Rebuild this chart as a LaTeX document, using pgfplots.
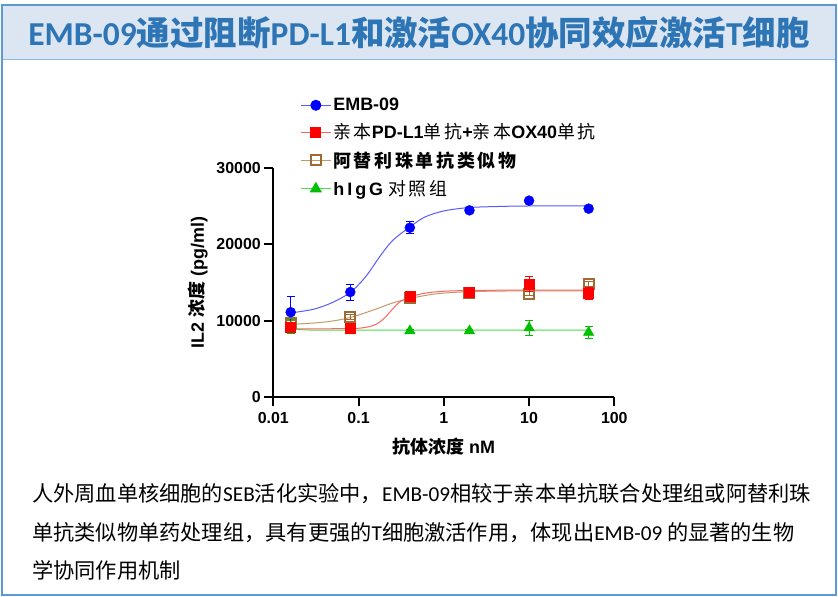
\documentclass[border=0pt]{standalone}
\usepackage{fontspec}
\setmainfont{Liberation Sans}
\newfontfamily\cjk{Noto Sans CJK SC}
\newfontfamily\cjksp{Noto Sans CJK SC}[LetterSpace=15]
\newfontfamily\carl{Carlito}
\usepackage{pgfplots}
\pgfplotsset{compat=1.18}

\definecolor{frameblue}{RGB}{91,155,213}
\definecolor{bannerfill}{RGB}{220,230,242}
\definecolor{titleblue}{RGB}{46,117,182}
\definecolor{cBlue}{RGB}{0,0,255}
\definecolor{lBlue}{RGB}{90,90,255}
\definecolor{cRed}{RGB}{255,0,0}
\definecolor{lRed}{RGB}{255,100,100}
\definecolor{cBrown}{RGB}{160,106,50}
\definecolor{lBrown}{RGB}{195,155,105}
\definecolor{cGreen}{RGB}{0,190,0}
\definecolor{lGreen}{RGB}{70,225,70}

\begin{document}
\begin{tikzpicture}
\useasboundingbox (0,0) rectangle (838bp,-597bp);
% frame and title banner
\fill[white] (0,0) rectangle (838bp,-597bp);
\fill[bannerfill] (2bp,-5bp) rectangle (836bp,-59bp);
\draw[frameblue!70, line width=1bp] (2bp,-59bp) -- (836bp,-59bp);
\draw[frameblue, line width=2bp] (2bp,-5bp) rectangle (836bp,-595bp);
\node[anchor=base, text=titleblue, inner sep=0pt] at (419bp,-45bp)
  {\fontsize{33.6}{33.6}\selectfont\bfseries{\carl EMB-09}{\cjk 通过阻断}{\carl PD-L1}{\cjk 和激活}{\carl OX40}{\cjk 协同效应激活}{\carl T}{\cjk 细胞}};

\begin{axis}[
  at={(273.3bp,-396.7bp)}, anchor=south west,
  scale only axis, width=341bp, height=228.4bp,
  xmode=log, xmin=0.01, xmax=100, ymin=0, ymax=30000,
  axis lines=left, axis line style={-, line width=2bp},
  xtick={0.01,0.1,1,10,100}, xticklabels={0.01,0.1,1,10,100},
  xminorticks=false,
  ytick={0,10000,20000,30000}, scaled y ticks=false,
  yticklabel style={/pgf/number format/1000 sep={}},
  xticklabel style={yshift=-3bp},
  /pgf/number format/assume math mode=true,
  tick align=outside, major tick length=9bp,
  tick style={black, line width=2bp},
  tick label style={font=\bfseries\fontsize{16}{16}\selectfont},
  xlabel={{\cjk 抗体浓度} nM},
  ylabel={IL2 {\cjk 浓度} (pg/ml)},
  label style={font=\bfseries\fontsize{18}{18}\selectfont},
  xlabel style={at={(axis description cs:0.5,-0.22)}, anchor=center},
  ylabel style={at={(axis description cs:-0.221,0.5)}, anchor=center, rotate=0},
  clip=false,
  legend cell align=left,
  legend style={draw=none, fill=none, at={(axis description cs:0.07,1.325)}, anchor=north west,
    font=\bfseries\fontsize{18}{18}\selectfont, row sep=7.5bp},
  legend image code/.code={\draw[mark repeat=2, mark phase=2, #1] plot coordinates {(0bp,0bp) (15bp,0bp) (30bp,0bp)};},
  error bars/y dir=both, error bars/y explicit,
  error bars/error bar style={line width=1bp},
  error bars/error mark options={rotate=90, mark size=4bp, line width=1bp},
]
% legend images
\addlegendimage{lBlue, line width=1bp, mark=*, mark size=5bp, mark options={cBlue, fill=cBlue}}
\addlegendimage{lRed, line width=1bp, mark=square*, mark size=5bp, mark options={cRed, fill=cRed}}
\addlegendimage{lBrown, line width=1bp, mark=square, mark size=5bp, mark options={cBrown, line width=2bp}}
\addlegendimage{lGreen, line width=1bp, mark=triangle*, mark size=6bp, mark options={cGreen, fill=cGreen}}
\addlegendentry{EMB-09}
\addlegendentry{{\cjksp\mdseries 亲本}PD-L1{\cjksp\mdseries 单抗}+{\cjksp\mdseries 亲本}OX40{\cjksp\mdseries 单抗}}
\addlegendentry{{\cjksp 阿替利珠单抗类似物}}
\addlegendentry{h\,I\,g\,G {\cjksp\mdseries 对照组}}

% fitted curves
\addplot[lGreen, line width=1bp, smooth, forget plot] coordinates {
 (0.016,8900) (0.025,8770) (0.05,8750) (1,8750) (50,8750)};
\addplot[lBrown, line width=1bp, smooth, forget plot] coordinates {
 (0.016,9500) (0.04,9800) (0.08,10400) (0.15,11400) (0.25,12300) (0.4,12900) (0.8,13500) (2,13800) (8,13900) (50,13900)};
\addplot[lRed, line width=1bp, smooth, forget plot] coordinates {
 (0.016,8900) (0.08,8950) (0.12,9100) (0.16,9500) (0.2,10300) (0.25,11500) (0.3,12400) (0.4,13100) (0.6,13600) (1,13850) (2,13950) (8,14000) (50,14000)};
\addplot[lBlue, line width=1bp, smooth, forget plot] coordinates {
 (0.016,11000) (0.03,11500) (0.05,12400) (0.08,13700) (0.12,15700) (0.18,18500) (0.25,20500) (0.4,22300) (0.6,23600) (1,24400) (2,24850) (5,25000) (10,25050) (50,25050)};

% measured points with error bars
\addplot[only marks, forget plot, cGreen, mark=triangle*, mark size=6bp, mark options={fill=cGreen}] coordinates {
 (0.016,9200) +- (0,900) (0.08,8650) +- (0,200) (0.4,8650) +- (0,150) (2,8650) +- (0,150) (10,9050) +- (0,1000) (50,8450) +- (0,750)};
\addplot[only marks, forget plot, cBrown, mark=square, mark size=5bp, mark options={line width=2bp}] coordinates {
 (0.016,9650) +- (0,300) (0.08,10500) +- (0,300) (0.4,12950) +- (0,300) (2,13600) +- (0,300) (10,13550) +- (0,300) (50,14800) +- (0,300)};
\addplot[only marks, forget plot, cRed, mark=square*, mark size=5bp, mark options={fill=cRed}] coordinates {
 (0.016,9100) +- (0,400) (0.08,8950) +- (0,300) (0.4,13150) +- (0,300) (2,13700) +- (0,300) (10,14800) +- (0,1000) (50,13550) +- (0,750)};
\addplot[only marks, forget plot, cBlue, mark=*, mark size=5bp, mark options={fill=cBlue}] coordinates {
 (0.016,11100) +- (0,2100) (0.08,13750) +- (0,1050) (0.4,22200) +- (0,800) (2,24480) +- (0,300) (10,25750) +- (0,300) (50,24700) +- (0,300)};
\end{axis}

% caption text
\begin{scope}[every node/.style={anchor=base west, inner sep=0pt, font=\cjk\fontsize{21.3}{21.3}\selectfont}]
\node at (32bp,-501bp) {人外周血单核细胞的{\carl SEB}活化实验中，{\carl EMB-09}相较于亲本单抗联合处理组或阿替利珠};
\node at (32bp,-540bp) {单抗类似物单药处理组，具有更强的{\carl T}细胞激活作用，体现出{\carl EMB-09} 的显著的生物};
\node at (32bp,-578bp) {学协同作用机制};
\end{scope}
\end{tikzpicture}
\end{document}
